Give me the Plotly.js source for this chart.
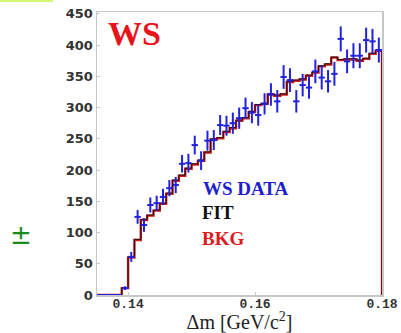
<!DOCTYPE html>
<html>
<head>
<meta charset="utf-8">
<script src="https://cdn.plot.ly/plotly-3.0.1.min.js"></script>
<style>
html,body{margin:0;padding:0;background:#fff;}
#chart{width:401px;height:333px;}
</style>
</head>
<body>
<div id="chart"></div>
<script>
// bin centers (GeV/c^2), bin width 0.001
var binCenters = [0.1355,0.1365,0.1375,0.1385,
  0.1395,0.1405,0.1415,0.1425,0.1435,0.1445,0.1455,0.1465,0.1475,0.1485,
  0.1495,0.1505,0.1515,0.1525,0.1535,0.1545,0.1555,0.1565,0.1575,0.1585,
  0.1595,0.1605,0.1615,0.1625,0.1635,0.1645,0.1655,0.1665,0.1675,0.1685,
  0.1695,0.1705,0.1715,0.1725,0.1735,0.1745,0.1755,0.1765,0.1775,0.1785,0.1795];
var halfBin = 0.0005;
// WS data
var wsData = [0,0,0,0,
  11,61,125,112,144,147,157,171,176,210,
  211,240,215,247,248,272,271,275,283,299,
  292,288,306,321,310,349,344,310,336,332,
  358,348,342,354,410,374,383,383,408,406,392];
var wsErr = [0,0,0,0,
  3,8,11,11,12,12,13,13,13,14,
  15,15,15,16,16,16,16,17,17,17,
  17,17,17,18,18,19,19,18,18,18,
  19,19,18,19,20,19,20,20,20,20,20];
// fit and background histograms
var fitVals = [0,0,0,0,
  11,61,89,121,128,136,147,163,184,192,
  203,210,216,229,250,252,262,268,280,284,
  294,305,307,322,320,322,342,344,346,352,
  357,367,370,381,377,378,378,376,379,387,392];
var bkgVals = [0,0,0,0,
  11,60,88,120,127,135,146,162,183,191,
  202,209,215,228,249,251,261,267,279,283,
  293,304,306,321,319,321,341,343,345,351,
  356,366,369,380,376,377,377,375,378,386,391];

function stepX(){
  var xs = binCenters.map(function(c){return c - halfBin;});
  xs.push(binCenters[binCenters.length-1] + halfBin);
  return xs;
}
function stepY(v){ var ys = v.slice(); ys.push(0); return ys; }

var traces = [
  {x: stepX(), y: stepY(bkgVals), type:'scatter', mode:'lines',
   line:{shape:'hv', color:'#c8201e', width:2.4}, hoverinfo:'skip'},
  {x: stepX(), y: stepY(fitVals), type:'scatter', mode:'lines',
   line:{shape:'hv', color:'#2a0a0a', width:1}, hoverinfo:'skip'},
  {x: binCenters, y: wsData, type:'scatter', mode:'markers',
   marker:{size:1, color:'#2222dd'},
   error_y:{type:'data', array:wsErr, visible:true, color:'#2222dd', thickness:2, width:0},
   error_x:{type:'constant', value:halfBin, visible:true, color:'#2222dd', thickness:2, width:0}}
];

var layout = {
  width:401, height:333,
  margin:{l:97, r:19, t:12, b:38},
  paper_bgcolor:'#ffffff', plot_bgcolor:'#ffffff',
  showlegend:false,
  xaxis:{
    range:[0.1351,0.18], tickvals:[0.14,0.16,0.18], ticktext:['0.14','0.16','0.18'],
    showgrid:false, zeroline:false, showline:true, linecolor:'#c8c8c8', linewidth:1.5,
    mirror:true, ticks:'inside', ticklen:3, tickcolor:'#c8c8c8', ticklabelstandoff:-4,
    tickfont:{family:'Liberation Mono', size:13, color:'#333', weight:'bold'},
    title:{text:'\u0394m [GeV/c<sup>2</sup>]', font:{family:'Liberation Serif', size:20, color:'#222'}, standoff:0}
  },
  yaxis:{
    range:[0,453], tickvals:[0,50,100,150,200,250,300,350,400,450],
    showgrid:false, zeroline:false, showline:true, linecolor:'#c8c8c8', linewidth:1.5,
    mirror:true, ticks:'inside', ticklen:3, tickcolor:'#c8c8c8',
    tickfont:{family:'DejaVu Sans', size:13, color:'#333', weight:'bold'}
  },
  annotations:[
    {xref:'paper', yref:'paper', x:0.03, y:0.925, xanchor:'left', yanchor:'middle', showarrow:false,
     text:'<b>WS</b>', font:{family:'Liberation Serif', size:34, color:'#e8141c'}},
    {xref:'paper', yref:'paper', x:(201-97)/285, y:(295-188)/283, xanchor:'left', yanchor:'middle', showarrow:false,
     text:'<b>WS DATA</b>', font:{family:'Liberation Serif', size:19, color:'#1f1fcc'}},
    {xref:'paper', yref:'paper', x:(200-97)/285, y:(295-213)/283, xanchor:'left', yanchor:'middle', showarrow:false,
     text:'<b>FIT</b>', font:{family:'Liberation Serif', size:19, color:'#111'}},
    {xref:'paper', yref:'paper', x:(200-97)/285, y:(295-238)/283, xanchor:'left', yanchor:'middle', showarrow:false,
     text:'<b>BKG</b>', font:{family:'Liberation Serif', size:19, color:'#e01a1a'}},
    {xref:'paper', yref:'paper', x:(21-97)/285, y:(295-235)/283, xanchor:'center', yanchor:'middle', showarrow:false,
     text:'\u00b1', font:{family:'DejaVu Sans', size:26, color:'#1a8a1a'}}
  ],
  shapes:[
    {type:'rect', xref:'paper', yref:'paper', x0:(0-97)/285, x1:(53-97)/285,
     y0:(295-2)/283, y1:(295-0)/283, fillcolor:'#d6f56e', line:{width:0}}
  ]
};

Plotly.newPlot('chart', traces, layout, {displayModeBar:false, staticPlot:true});
</script>
</body>
</html>
